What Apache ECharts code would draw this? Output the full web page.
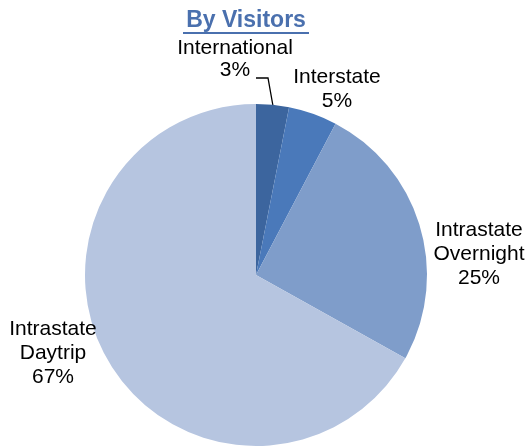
<!DOCTYPE html>
<html><head><meta charset="utf-8">
<script src="https://cdn.jsdelivr.net/npm/echarts@6/dist/echarts.min.js"></script>
<style>html,body{margin:0;padding:0;background:#fff}#c{width:528px;height:447px}</style>
</head><body><div id="c"></div>
<script>
var categories = ['International', 'Interstate', 'Intrastate\nOvernight', 'Intrastate\nDaytrip'];
var values = [3.1, 4.6, 25.4, 66.9];
var percentLabels = ['3%', '5%', '25%', '67%'];
var colors = ['#3C659E', '#4A79BA', '#7F9DCA', '#B6C5E0'];
var titleText = 'By Visitors';

var labelPos = [
  {x: 235, y: 59},
  {x: 337, y: 89},
  {x: 479, y: 254},
  {x: 53, y: 353}
];

var chart = echarts.init(document.getElementById('c'));
chart.setOption({
  animation: false,
  graphic: [
    {type: 'text', x: 246, y: 21, style: {text: titleText, font: 'bold 23px "Liberation Sans", Arial', fill: '#4A70AE', align: 'center', verticalAlign: 'middle'}},
    {type: 'rect', shape: {x: 183, y: 32, width: 126, height: 2}, style: {fill: '#4A70AE'}}
  ],
  series: [{
    type: 'pie',
    center: [256, 275],
    radius: 171,
    startAngle: 90,
    clockwise: true,
    data: categories.map(function (c, i) {
      return {
        name: c, value: values[i],
        itemStyle: {color: colors[i]},
        label: {lineHeight: i === 0 ? 22.5 : 24},
        labelLine: {show: i === 0, lineStyle: {color: '#000', width: 1.3}}
      };
    }),
    label: {
      show: true,
      formatter: function (p) { return p.name + '\n' + percentLabels[p.dataIndex]; },
      fontFamily: 'Liberation Sans, Arial',
      fontSize: 21,
      lineHeight: 24,
      color: '#000',
      align: 'center',
      overflow: 'none',
      edgeDistance: 0,
      bleedMargin: 0
    },
    labelLine: {show: false},
    labelLayout: function (params) {
      var p = labelPos[params.dataIndex];
      var res = {x: p.x, y: p.y, align: 'center', verticalAlign: 'middle', width: 200};
      if (params.dataIndex === 0) {
        res.labelLinePoints = [[256, 78], [268, 78], [273, 106]];
      }
      return res;
    },
    emphasis: {disabled: true}
  }]
});
</script></body></html>
